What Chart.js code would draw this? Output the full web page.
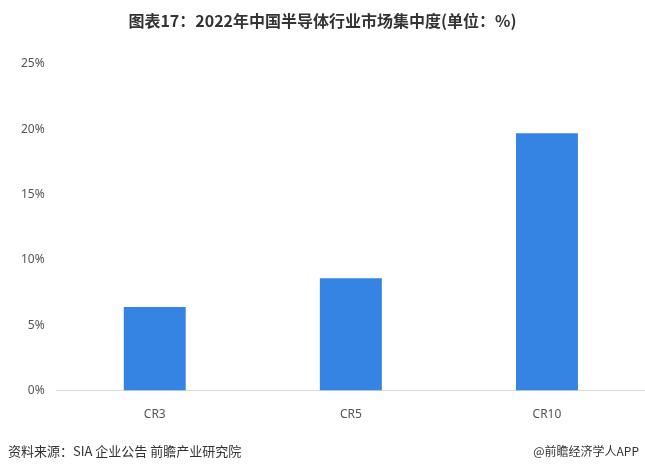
<!DOCTYPE html>
<html>
<head>
<meta charset="utf-8">
<script src="https://cdn.jsdelivr.net/npm/chart.js@4"></script>
<style>
  html, body { margin: 0; padding: 0; background: #fff; }
  #wrap { position: relative; width: 645px; height: 472px; font-family: "Noto Sans CJK SC", "Noto Sans", sans-serif; }
  #title { position: absolute; left: 0; top: 8px; width: 645px; text-align: center; font-size: 16px; font-weight: bold; color: #333; }
  #src { position: absolute; left: 8px; top: 441px; font-size: 13px; color: #333; }
  #brand { position: absolute; right: 6px; top: 442px; font-size: 12px; color: #333; }
  canvas { position: absolute; left: 0; top: 0; }
</style>
</head>
<body>
<div id="wrap">
  <canvas id="barChart" width="645" height="472"></canvas>
  <div id="title">图表17：2022年中国半导体行业市场集中度(单位：%)</div>
  <div id="src">资料来源：SIA 企业公告 前瞻产业研究院</div>
  <div id="brand">@前瞻经济学人APP</div>
</div>
<script>
const categories = ['CR3', 'CR5', 'CR10'];
const shares = [6.4, 8.6, 19.7];
const tickMax = 25;
const tickStep = 5;

const ctx = document.getElementById('barChart').getContext('2d');

const chart = new Chart(ctx, {
  type: 'bar',
  data: {
    labels: categories,
    datasets: [
      {
        label: '市场集中度',
        data: shares,
        backgroundColor: '#3584e4',
        barPercentage: 0.316,
        categoryPercentage: 1,
      },
    ],
  },
  options: {
    responsive: false,
    animation: false,
    layout: {
      padding: { top: 64, bottom: 41, left: 17, right: 0 },
    },
    plugins: {
      legend: { display: false },
      tooltip: { enabled: false },
    },
    scales: {
      x: {
        grid: { display: false },
        border: { color: '#d9d9d9' },
        ticks: { color: '#555', font: { size: 12, family: 'Noto Sans' }, padding: 9 },
      },
      y: {
        min: 0,
        max: tickMax,
        grid: { display: false },
        border: { display: false },
        ticks: {
          stepSize: tickStep,
          color: '#555',
          padding: 4,
          font: { size: 12, family: 'Noto Sans' },
          callback: (v) => v + '%',
        },
      },
    },
  },
});
</script>
</body>
</html>
